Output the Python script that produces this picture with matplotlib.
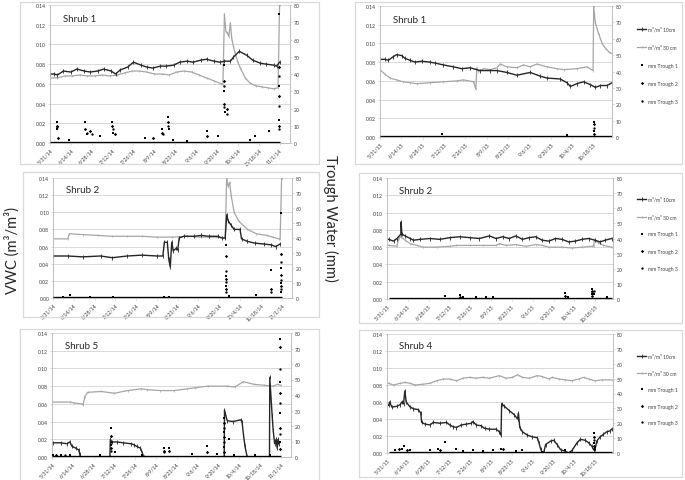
import matplotlib
matplotlib.use("Agg")
import matplotlib.pyplot as plt
from matplotlib.patches import Rectangle
import numpy as np

plt.rcParams['font.family'] = ['Lato', 'DejaVu Sans']

W, H = 685, 481
FRAME = "#d9d9d9"
GRID = "#d9d9d9"
AXIS = "#bfbfbf"
TXT = "#404040"
C10 = "#262626"
C30 = "#a6a6a6"

# x axis: days after 5/31
TICK_DAYS_14 = [0, 14, 28, 42, 56, 70, 84, 98, 112, 126, 140, 154]
TICK_LABELS_14 = ["5/31/14", "6/14/14", "6/28/14", "7/12/14", "7/26/14", "8/9/14",
                  "8/23/14", "9/6/14", "9/20/14", "10/4/14", "10/18/14", "11/1/14"]
TICK_DAYS_15 = [0, 14, 28, 42, 56, 70, 84, 98, 112, 126, 140]
TICK_LABELS_15 = ["5/31/15", "6/14/15", "6/28/15", "7/12/15", "7/26/15", "8/9/15",
                  "8/23/15", "9/6/15", "9/20/15", "10/4/15", "10/18/15"]

LEGEND_LABELS = ["m³/m³ 10cm", "m³/m³ 30 cm", "mm Trough 1", "mm Trough 2", "mm Trough 3"]

# ---- Shrub 1, 2014 ----
S1_14_D10 = [0, 3, 5, 9, 14, 18, 23, 27, 32, 36, 41, 44, 47, 52, 56, 61, 65, 69, 74, 78,
             83, 87, 92, 96, 101, 105, 110, 114, 117, 121, 123, 127, 132, 136, 141, 145, 150, 152, 154]
S1_14_V10 = [0.070, 0.070, 0.069, 0.073, 0.072, 0.075, 0.073, 0.072, 0.073, 0.075,
             0.073, 0.070, 0.074, 0.077, 0.082, 0.079, 0.077, 0.076, 0.078, 0.078,
             0.079, 0.082, 0.083, 0.082, 0.084, 0.085, 0.083, 0.082, 0.083, 0.083,
             0.087, 0.093, 0.089, 0.084, 0.081, 0.080, 0.079, 0.078, 0.082]
S1_14_D30 = [0, 5, 10, 15, 20, 25, 30, 35, 40, 45, 50, 55, 60, 65, 70, 75, 80, 85, 90, 95,
             100, 105, 110, 115, 116, 117, 118, 119, 120, 121, 122, 124, 126, 128, 131, 134,
             138, 142, 146, 150, 153, 154]
S1_14_V30 = [0.066, 0.066, 0.068, 0.068, 0.069, 0.068, 0.068, 0.069, 0.068, 0.069,
             0.071, 0.073, 0.073, 0.072, 0.070, 0.070, 0.069, 0.072, 0.073, 0.072,
             0.069, 0.066, 0.063, 0.060, 0.059, 0.131, 0.113, 0.112, 0.108, 0.122, 0.105,
             0.092, 0.082, 0.075, 0.066, 0.061, 0.058, 0.057, 0.056, 0.055, 0.056, 0.140]
# (day, trough, mm)
S1_14_TROUGH = [(4.5, 1, 12), (4.5, 2, 10), (4.5, 3, 9), (4.5, 1, 8), (5.5, 2, 3), (12.7, 1, 2),
                (23.8, 1, 12), (23.8, 2, 8), (24.5, 3, 6), (25, 1, 5), (27.1, 2, 7), (28, 3, 5),
                (33.8, 1, 4), (41.6, 1, 12), (41.6, 2, 10), (42, 3, 8), (42.5, 1, 6), (43.8, 2, 5),
                (63.9, 1, 3), (69.4, 2, 3), (75, 1, 8), (75, 2, 6), (75.5, 3, 5), (79.4, 1, 15),
                (79.4, 2, 12), (79.4, 3, 10), (80, 1, 8), (82.8, 1, 2), (91.7, 1, 1), (105.5, 1, 7),
                (105.5, 2, 4), (112.8, 1, 4), (116.6, 1, 45), (116.6, 2, 36), (116.6, 3, 33),
                (116.6, 1, 30), (116.6, 2, 22.6), (116.6, 3, 20.7), (117.5, 1, 17.8), (118.8, 2, 20),
                (118.8, 3, 17), (134, 1, 2), (137.3, 1, 4), (146.9, 1, 7), (153.5, 1, 75),
                (153.5, 2, 44), (153.5, 3, 39), (153.5, 1, 33), (153.5, 2, 27), (153.5, 3, 21.6),
                (153.5, 1, 13.5), (153.5, 2, 10), (153.5, 3, 8)]

# ---- Shrub 2, 2014 ----
S2_14_D10 = [0, 10, 20, 32, 40, 50, 60, 70, 74, 75, 77, 78, 79, 80, 81, 83, 84, 85, 88, 95,
             100, 105, 111, 114, 116, 117, 118, 120, 122, 126, 127, 131, 136, 142, 147, 150, 153]
S2_14_V10 = [0.049, 0.049, 0.048, 0.049, 0.047, 0.049, 0.050, 0.049, 0.049, 0.065,
             0.065, 0.045, 0.036, 0.065, 0.055, 0.058, 0.056, 0.070, 0.072, 0.072,
             0.073, 0.072, 0.072, 0.070, 0.070, 0.097, 0.090, 0.085, 0.080, 0.080,
             0.069, 0.066, 0.064, 0.063, 0.062, 0.060, 0.063]
S2_14_D30 = [0, 10, 11, 20, 30, 40, 50, 60, 70, 80, 90, 100, 110, 114, 116, 117, 118, 119, 120, 122,
             125, 131, 137, 144, 148, 152, 153, 154]
S2_14_V30 = [0.069, 0.069, 0.075, 0.074, 0.073, 0.072, 0.072, 0.072, 0.071, 0.071,
             0.072, 0.071, 0.071, 0.070, 0.070, 0.140, 0.130, 0.135, 0.120, 0.100,
             0.090, 0.080, 0.075, 0.073, 0.071, 0.069, 0.069, 0.140]
S2_14_TROUGH = [(6.8, 1, 1), (11.3, 1, 2), (24.9, 1, 1), (40.7, 1, 1), (74.7, 1, 1), (78, 1, 1),
                (116.5, 1, 35.6), (116.5, 2, 27.8), (116.5, 3, 17.8), (116.5, 1, 15), (116.5, 2, 12.7),
                (116.5, 3, 10.5), (116.5, 1, 8.2), (116.5, 2, 6), (116.5, 3, 4), (118.8, 1, 1.5),
                (136.9, 1, 2), (147, 1, 18.7), (147, 2, 6), (147, 3, 4), (153.4, 1, 57),
                (153.4, 2, 29.4), (153.4, 3, 23.8), (153.4, 1, 19.8), (153.4, 2, 15.4), (153.4, 3, 12),
                (153.4, 1, 10), (153.4, 2, 8), (153.4, 3, 6), (153.4, 1, 4)]

# ---- Shrub 5, 2014 ----
S5_14_D10 = [1, 6, 10, 12, 13.5, 16, 18, 18.7, 19.1, 39, 39.3, 40.4, 44, 48, 53, 55, 57, 59.6, 60.7, 61.8,
             116, 116.2, 118, 122, 127, 128, 129, 130, 131.5, 146.5, 146.7, 148.3, 149, 150, 151,
             151.7, 152.4, 152.8]
S5_14_V10 = [0.016, 0.016, 0.015, 0.017, 0.012, 0.010, 0.008, 0.003, 0.0, 0.0,
             0.020, 0.017, 0.017, 0.016, 0.015, 0.014, 0.012, 0.010, 0.005, 0.0,
             0.0, 0.053, 0.041, 0.040, 0.042, 0.040, 0.025, 0.012, 0.0, 0.0,
             0.090, 0.047, 0.030, 0.015, 0.020, 0.010, 0.020, 0.015]
S5_14_D30 = [0, 12, 15, 20, 21, 22, 24, 33, 42, 51, 60, 64, 73, 82, 91, 96, 105, 118, 123, 129,
             136, 143, 149, 152, 154]
S5_14_V30 = [0.062, 0.062, 0.061, 0.060, 0.059, 0.068, 0.073, 0.074, 0.072, 0.075,
             0.077, 0.076, 0.075, 0.075, 0.077, 0.078, 0.080, 0.080, 0.079, 0.085,
             0.082, 0.081, 0.080, 0.082, 0.081]
S5_14_TROUGH = [(1, 1, 1), (3, 2, 1), (6, 1, 1), (9, 3, 1), (12, 1, 1), (32.6, 1, 1),
                (40, 1, 18.6), (40, 2, 13.3), (40, 3, 10), (40, 1, 8), (40, 2, 6), (40, 3, 4),
                (42.7, 1, 3), (60.7, 1, 1), (75.3, 1, 5.7), (75.3, 2, 4), (75.3, 3, 3),
                (78.7, 1, 5.7), (78.7, 2, 4), (94.4, 1, 2), (104.5, 1, 6.8), (104.5, 2, 3),
                (111, 1, 2), (116.2, 1, 25.4), (116.2, 2, 22), (116.2, 3, 19), (116.2, 1, 16),
                (116.2, 2, 12.7), (116.2, 3, 9.5), (116.2, 1, 6.3), (116.2, 2, 3.2), (119, 1, 11.6),
                (122.5, 1, 1), (137, 1, 1), (146.7, 1, 1), (153.5, 1, 76), (153.5, 2, 71),
                (153.5, 3, 57), (153.5, 1, 48.7), (153.5, 2, 41), (153.5, 3, 35), (153.5, 1, 28.5),
                (153.5, 2, 19), (153.5, 3, 15), (153.5, 1, 9.5), (153.5, 2, 5.3)]

# ---- Shrub 1, 2015 ----
S1_15_D10 = [0, 3.3, 5.5, 8.8, 10.9, 14.2, 16.4, 19.7, 23, 27.3, 32.8, 36.1, 41.6, 48.1, 53.6, 59,
             65.6, 72.2, 76.6, 83.1, 89.7, 98.4, 105, 109.4, 118.1, 122.5, 124.7, 129, 133.4,
             137.8, 141.1, 144.4, 148.8, 152]
S1_15_V10 = [0.083, 0.083, 0.082, 0.086, 0.088, 0.087, 0.084, 0.082, 0.080, 0.081,
             0.080, 0.079, 0.077, 0.075, 0.073, 0.074, 0.071, 0.071, 0.071, 0.069,
             0.066, 0.069, 0.065, 0.063, 0.062, 0.058, 0.054, 0.057, 0.059, 0.056,
             0.053, 0.055, 0.055, 0.058]
S1_15_D30 = [0, 3.3, 6.6, 10.9, 15.3, 19.7, 24, 32.8, 41.6, 50.3, 54.7, 61.3, 62.8, 63.4, 64.5, 67.8,
             72.2, 76.6, 78.8, 83.1, 89.7, 94, 98.4, 102.8, 109.4, 116, 120.3, 129, 135.6, 139.6,
             140, 141.1, 143.3, 145.5, 147.7, 149.9, 152]
S1_15_V30 = [0.072, 0.067, 0.063, 0.061, 0.059, 0.058, 0.057, 0.058, 0.059, 0.060,
             0.061, 0.059, 0.051, 0.074, 0.070, 0.073, 0.072, 0.074, 0.078, 0.075,
             0.074, 0.077, 0.075, 0.078, 0.075, 0.073, 0.072, 0.073, 0.075, 0.071,
             0.140, 0.122, 0.110, 0.100, 0.095, 0.091, 0.089]
S1_15_TROUGH = [(40.5, 1, 2), (122.5, 1, 1), (140, 1, 9.2), (140, 2, 7.7), (140, 3, 5.7),
                (140, 1, 3.7), (140, 2, 1.6)]

# ---- Shrub 2, 2015 ----
S2_15_D10 = [1.1, 4.4, 6.7, 9.3, 9.5, 10, 12.2, 15.6, 17.8, 22.2, 28.9, 35.6, 42.2, 48.9, 55.6,
             62.2, 68.9, 73.3, 77.8, 82.2, 86.7, 91.1, 95.6, 100, 104.4, 108.9, 113.3, 117.8,
             122.2, 126.7, 131.1, 135.6, 140, 143.3, 146.7, 151.1]
S2_15_V10 = [0.069, 0.067, 0.070, 0.075, 0.089, 0.075, 0.073, 0.070, 0.068, 0.069,
             0.070, 0.069, 0.071, 0.072, 0.071, 0.070, 0.073, 0.070, 0.072, 0.070,
             0.073, 0.069, 0.071, 0.072, 0.068, 0.067, 0.070, 0.069, 0.066, 0.067,
             0.069, 0.070, 0.068, 0.066, 0.068, 0.070]
S2_15_D30 = [1.1, 6.7, 7.8, 9.3, 12.2, 15.6, 20, 24.4, 33.3, 42.2, 46.7, 55.6, 64.4, 73.3, 75.6,
             80, 86.7, 93.3, 100, 104.4, 108.9, 117.8, 124.4, 131.1, 137.8, 138.9, 139.6, 142.2,
             145.6, 151.1]
S2_15_V30 = [0.062, 0.061, 0.070, 0.072, 0.068, 0.064, 0.062, 0.060, 0.060, 0.061,
             0.062, 0.062, 0.062, 0.062, 0.064, 0.062, 0.063, 0.061, 0.063, 0.062,
             0.060, 0.060, 0.059, 0.060, 0.061, 0.061, 0.068, 0.065, 0.062, 0.060]
S2_15_TROUGH = [(38.9, 1, 2), (48.9, 1, 2.5), (48.9, 2, 1), (51, 1, 1), (60, 1, 1), (66.7, 1, 1),
                (71, 1, 1), (120, 1, 4), (120, 2, 2), (122, 1, 1), (137.8, 1, 6.6), (137.8, 2, 5.5),
                (137.8, 3, 4.4), (137.8, 1, 3.3), (137.8, 2, 2.2), (138.9, 3, 5), (138.9, 1, 3),
                (147.8, 1, 1)]

# ---- Shrub 4, 2015 ----
S4_15_D10 = [1.1, 1.8, 3.3, 6.7, 8.9, 10, 11.1, 12, 12.9, 15.6, 17.8, 21.1, 22.7, 23.3, 25.6, 28.9,
             31.1, 35.6, 40, 42.2, 44.4, 46.7, 50, 53.3, 56.7, 57.8, 60, 63.3, 65.6, 68.9, 73.3,
             75.6, 76.7, 77.1, 78.9, 82.2, 85.6, 87.8, 88.4, 89.3, 91.1, 94.4, 97.8, 101.1, 102.2,
             103.3, 104.4, 105.6, 106.7, 110, 112.2, 114.4, 116.7, 120, 122.2, 124.4, 127.8, 130,
             133.3, 135.6, 137.8, 138.9, 140, 141.1, 143.3, 145.6, 147.8, 150, 151.1]
S4_15_V10 = [0.056, 0.060, 0.054, 0.055, 0.057, 0.060, 0.058, 0.073, 0.060, 0.054,
             0.052, 0.051, 0.047, 0.036, 0.034, 0.033, 0.036, 0.035, 0.036, 0.033,
             0.031, 0.030, 0.033, 0.034, 0.035, 0.037, 0.033, 0.032, 0.029, 0.028,
             0.028, 0.025, 0.021, 0.058, 0.055, 0.050, 0.045, 0.040, 0.047, 0.030,
             0.025, 0.021, 0.019, 0.018, 0.012, 0.005, 0.0, 0.002, 0.010, 0.014,
             0.015, 0.010, 0.004, 0.002, 0.0, 0.003, 0.012, 0.016, 0.015, 0.012,
             0.008, 0.004, 0.005, 0.014, 0.019, 0.022, 0.025, 0.026, 0.028]
S4_15_D30 = [1.1, 4.4, 8.9, 12.2, 15.6, 18.9, 24.4, 28.9, 33.3, 37.8, 42.2, 46.7, 51.1, 55.6, 60,
             64.4, 68.9, 75.6, 80, 84.4, 87.8, 91.1, 95.6, 101.1, 104.4, 108.9, 111.1, 115.6, 120,
             124.4, 128.9, 132.2, 135.6, 140, 144.4, 151.1]
S4_15_V30 = [0.082, 0.080, 0.082, 0.083, 0.082, 0.080, 0.081, 0.082, 0.085, 0.087,
             0.087, 0.085, 0.088, 0.089, 0.088, 0.089, 0.088, 0.091, 0.088, 0.089,
             0.092, 0.089, 0.088, 0.091, 0.090, 0.087, 0.089, 0.087, 0.086, 0.085,
             0.087, 0.089, 0.087, 0.085, 0.086, 0.086]
S4_15_TROUGH = [(5.6, 1, 2), (7.8, 2, 3), (10, 1, 3), (11.6, 1, 4.5), (13.3, 2, 2), (15.6, 1, 2),
                (28.9, 1, 2), (34.4, 1, 3), (35.6, 2, 2), (38.9, 1, 7.2), (46.7, 1, 2.5),
                (51.1, 1, 1.5), (57.8, 1, 2), (64.4, 1, 1.5), (71.1, 1, 2), (76.7, 1, 3),
                (77.8, 2, 3), (86.7, 1, 1.5), (91.1, 1, 2), (104.4, 1, 1), (120, 1, 2),
                (138.9, 1, 13.5), (138.9, 2, 11), (138.9, 3, 9), (138.9, 1, 7), (138.9, 2, 5),
                (138.9, 3, 3), (140, 1, 4)]


def frac_box(l, t, r, b):
    return [l / W, 1 - b / H, (r - l) / W, (b - t) / H]


def panel(fig, box, frame, title, d10, v10, d30, v30, troughs, tdays, tlabels, xmax, legend_top=None):
    fig.patches.append(Rectangle((frame[0] / W, 1 - frame[3] / H), (frame[2] - frame[0]) / W,
                                 (frame[3] - frame[1]) / H, transform=fig.transFigure,
                                 fill=False, edgecolor=FRAME, lw=0.9))
    ax = fig.add_axes(frac_box(*box))
    ax2 = ax.twinx()

    ax.set_xlim(0, xmax)
    ax.set_ylim(0, 0.14)
    ax2.set_ylim(0, 80)
    ax.set_yticks(np.arange(0, 0.141, 0.02))
    ax.set_yticklabels([f"{v:.2f}" for v in np.arange(0, 0.141, 0.02)])
    ax2.set_yticks(range(0, 81, 10))
    ax.set_xticks(tdays)
    ax.set_xticklabels(tlabels, rotation=45, ha="right", rotation_mode="anchor")

    ax.grid(axis="y", color=GRID, lw=0.7)
    ax.set_axisbelow(True)
    for a in (ax, ax2):
        a.spines["top"].set_visible(False)
        for s in ("left", "right", "bottom"):
            a.spines[s].set_color(AXIS)
            a.spines[s].set_linewidth(0.6)
        a.tick_params(labelsize=3.7, length=1.5, width=0.4, color=AXIS, pad=1.2, labelcolor=TXT)

    l10, = ax.plot(d10, v10, color=C10, lw=1.0, marker="|", ms=2.4, mew=0.6, zorder=3)
    l30, = ax.plot(d30, v30, color=C30, lw=0.9, marker="|", ms=1.8, mew=0.5, zorder=2)

    # zero readings of the troughs form the thick black base
    ax2.hlines(0, min(d10[0], d30[0]), max(d10[-1], d30[-1]), color="black", lw=2.4, zorder=4)
    handles = [l10, l30]
    for k, mk in zip((1, 2, 3), ("s", "D", "o")):
        xs = [d for d, t, mm in troughs if t == k]
        ys = [mm for d, t, mm in troughs if t == k]
        h, = ax2.plot(xs, ys, ls="none", marker=mk, ms=1.7, color="black", mew=0, zorder=5)
        handles.append(h)

    ax.text(0.055, 0.9, title, transform=ax.transAxes, fontsize=7, color="#262626",
            va="center", ha="left")

    if legend_top is not None:
        fig.legend(handles, LEGEND_LABELS, loc="upper left",
                   bbox_to_anchor=(legend_top[0] / W, 1 - legend_top[1] / H),
                   frameon=False, fontsize=3.6, labelspacing=legend_top[2],
                   handlelength=1.8, handletextpad=0.3, borderpad=0, borderaxespad=0,
                   labelcolor=TXT)
    return ax


fig = plt.figure(figsize=(W / 100, H / 100), dpi=100)
fig.patch.set_facecolor("white")

panel(fig, (50, 6, 290, 144), (20, 3, 319, 165), "Shrub 1",
      S1_14_D10, S1_14_V10, S1_14_D30, S1_14_V30, S1_14_TROUGH, TICK_DAYS_14, TICK_LABELS_14, 161)
panel(fig, (53, 179, 292, 299), (23, 173, 319, 318), "Shrub 2",
      S2_14_D10, S2_14_V10, S2_14_D30, S2_14_V30, S2_14_TROUGH, TICK_DAYS_14, TICK_LABELS_14, 161)
panel(fig, (52, 334, 291, 458), (20, 330, 319, 483), "Shrub 5",
      S5_14_D10, S5_14_V10, S5_14_D30, S5_14_V30, S5_14_TROUGH, TICK_DAYS_14, TICK_LABELS_14, 161)

panel(fig, (380, 7, 612, 138), (355, 3, 682, 165), "Shrub 1",
      S1_15_D10, S1_15_V10, S1_15_D30, S1_15_V30, S1_15_TROUGH, TICK_DAYS_15, TICK_LABELS_15, 152,
      legend_top=(637, 27, 2.6))
panel(fig, (387, 179, 613, 300), (359, 174, 682, 324), "Shrub 2",
      S2_15_D10, S2_15_V10, S2_15_D30, S2_15_V30, S2_15_TROUGH, TICK_DAYS_15, TICK_LABELS_15, 152,
      legend_top=(637, 197, 2.45))
panel(fig, (387, 335, 613, 454), (359, 331, 682, 478), "Shrub 4",
      S4_15_D10, S4_15_V10, S4_15_D30, S4_15_V30, S4_15_TROUGH, TICK_DAYS_15, TICK_LABELS_15, 152,
      legend_top=(637, 354, 2.3))

fig.text(12 / W, 1 - 250 / H, "VWC (m³/m³)", rotation=90, fontsize=10.5, color="#262626",
         ha="center", va="center")
fig.text(331 / W, 1 - 218 / H, "Trough Water (mm)", rotation=270, fontsize=10.5, color="#262626",
         ha="center", va="center")

fig.savefig("out.png", dpi=100, facecolor="white")
